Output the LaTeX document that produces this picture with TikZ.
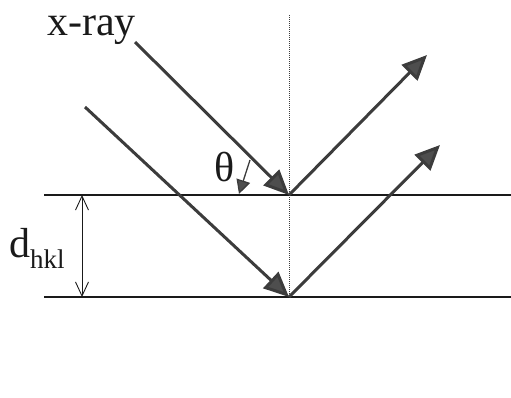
\documentclass[tikz,border=0pt]{standalone}
\usepackage{fontspec}
\setmainfont{Liberation Serif}
\usetikzlibrary{arrows.meta}
\definecolor{ink}{HTML}{1A1A1A}
\definecolor{beam}{HTML}{3C3C3C}
\definecolor{head}{HTML}{4E4E4E}
\tikzset{
  plane/.style={draw=ink, line width=1.5pt},
  normal/.style={draw=ink!85, line width=1pt, densely dotted},
  ray/.style={-{Triangle[length=25pt,width=22pt,fill=head]}, line width=3pt, draw=beam},
  angle/.style={-{Triangle[length=14pt,width=14pt,fill=head]}, line width=1.3pt, draw=beam},
  spacing/.style={{Straight Barb[length=14pt,width=13pt]}-{Straight Barb[length=14pt,width=13pt]}, line width=0.9pt, draw=ink},
  lbl/.style={font=\fontsize{42}{42}\selectfont, text=ink, inner sep=0pt}
}
\newcommand{\sublbl}[1]{\raisebox{-11pt}{\fontsize{27}{27}\selectfont #1}}

\begin{document}
\begin{tikzpicture}[x=1pt,y=1pt]
\useasboundingbox (0,0) rectangle (511,-397);

% lattice planes
\coordinate (pl1w) at (44,-195);
\coordinate (pl1e) at (511,-195);
\coordinate (pl2w) at (44,-297);
\coordinate (pl2e) at (511,-297);
\draw[plane] (pl1w) -- (pl1e);
\draw[plane] (pl2w) -- (pl2e);

% reflection points and normal
\coordinate (O1) at (289,-195);
\coordinate (O2) at (289,-297);
\coordinate (nrm) at (289,-15);
\draw[normal] (nrm) -- (O2);

% rays
\coordinate (in1) at (135,-42);
\coordinate (in2) at (85,-107);
\coordinate (out1) at (427,-55);
\coordinate (out2) at (440,-145);
\draw[ray] (in1) -- (O1);
\draw[ray] (in2) -- (O2);
\draw[ray] (O1) -- (out1);
\draw[ray] (O2) -- (out2);

% angle
\coordinate (tha) at (250,-160);
\coordinate (thb) at (239,-194);
\draw[angle] (tha) -- (thb);

% spacing
\coordinate (dtop) at (82,-195);
\coordinate (dbot) at (82,-297);
\draw[spacing] (dtop) -- (dbot);

% labels
\node[lbl, anchor=base west] (xray) at (47,-35) {x-ray};
\node[lbl, anchor=base west] (theta) at (214,-181) {θ};
\node[lbl, anchor=base west] (dhkl) at (9,-257) {d\sublbl{hkl}};

\end{tikzpicture}
\end{document}
